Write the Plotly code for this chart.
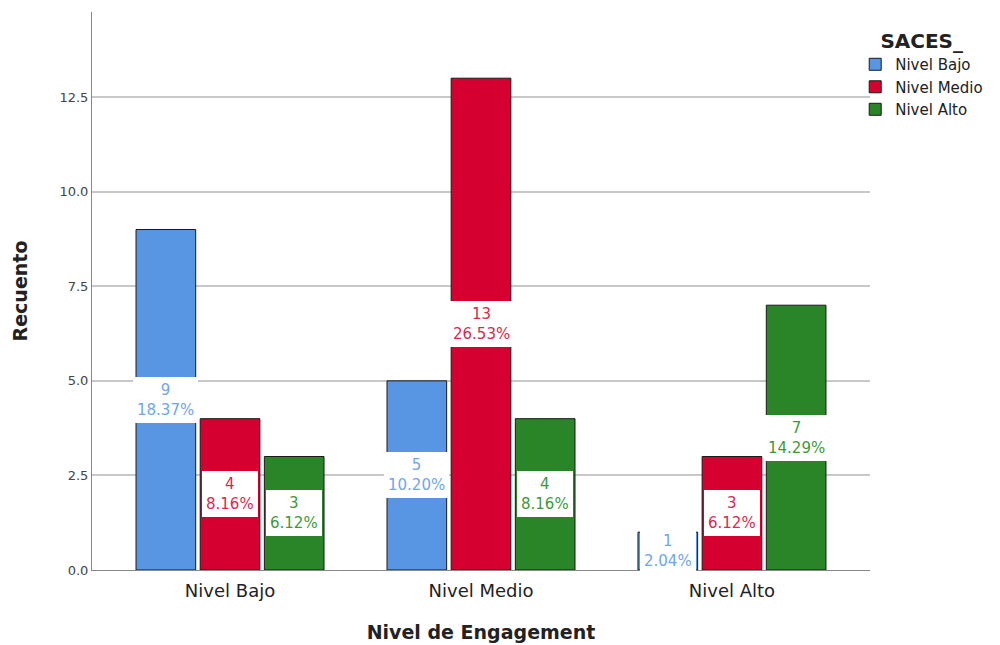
import plotly.graph_objects as go

categories = ["Nivel Bajo", "Nivel Medio", "Nivel Alto"]
series_names = ["Nivel Bajo", "Nivel Medio", "Nivel Alto"]
counts = {
    "Nivel Bajo": [9, 5, 1],
    "Nivel Medio": [4, 13, 3],
    "Nivel Alto": [3, 4, 7],
}
total = 49
bar_colors = {"Nivel Bajo": "#5896E4", "Nivel Medio": "#D5002F", "Nivel Alto": "#2A8428"}
label_colors = {"Nivel Bajo": "#6FA6EC", "Nivel Medio": "#D9284F", "Nivel Alto": "#3C9A3A"}

FONT = "DejaVu Sans"
fig = go.Figure()
for s in series_names:
    fig.add_trace(go.Bar(
        x=categories, y=counts[s], name=s,
        marker=dict(color=bar_colors[s], line=dict(color="#1a1a1a", width=1)),
    ))

# page has an 8px body margin; figure coordinates below account for it
plot_left, plot_right = 84, 862
plot_top, plot_bottom = 4, 562
xr = [-0.55, 2.55]
bargap, bargroupgap = 0.233, 0.07
cat_px = (plot_right - plot_left) / (xr[1] - xr[0])
slot_px = cat_px * (1 - bargap) / len(series_names)

annotations = []
for si, s in enumerate(series_names):
    shift = (si - (len(series_names) - 1) / 2) * slot_px
    for ci, c in enumerate(categories):
        v = counts[s][ci]
        annotations.append(dict(
            x=c, y=v / 2, xref="x", yref="y", xshift=shift,
            text=f"{v}<br>{v / total * 100:.2f}%",
            showarrow=False, bgcolor="white", bordercolor="white", borderpad=3,
            font=dict(family=FONT, size=15, color=label_colors[s]),
            align="center",
        ))

fig.update_layout(
    width=1000, height=645,
    margin=dict(l=plot_left, r=1000 - plot_right, t=plot_top, b=645 - plot_bottom,
                autoexpand=False),
    plot_bgcolor="white", paper_bgcolor="white",
    barmode="group", bargap=bargap, bargroupgap=bargroupgap,
    font=dict(family=FONT, color="#222"),
    annotations=annotations,
    legend=dict(
        title=dict(text="<b>SACES_</b>", font=dict(size=20, color="#222"), side="top center"),
        x=0.981, xanchor="left", y=0.982, yanchor="top",
        bgcolor="rgba(0,0,0,0)",
        font=dict(size=15, color="#222"), tracegroupgap=0,
        itemwidth=30,
    ),
    xaxis=dict(
        range=xr, showgrid=False, ticks="", tickfont=dict(size=18, color="#222"),
        showline=True, linecolor="#888", linewidth=1, automargin=False,
        ticklabelstandoff=4,
        title=dict(text="<b>Nivel de Engagement</b>", font=dict(size=19, color="#222"), standoff=26),
    ),
    yaxis=dict(
        range=[0, 14.75], tickvals=[0, 2.5, 5, 7.5, 10, 12.5],
        ticktext=["0.0", "2.5", "5.0", "7.5", "10.0", "12.5"],
        tickfont=dict(size=13, color="#444"), ticks="", automargin=False,
        showgrid=True, gridcolor="#c8c8c8", gridwidth=1.5, zeroline=False,
        showline=True, linecolor="#888", linewidth=1,
        title=dict(text="<b>Recuento</b>", font=dict(size=19, color="#222"), standoff=26),
    ),
)
fig.write_html("out.html")
